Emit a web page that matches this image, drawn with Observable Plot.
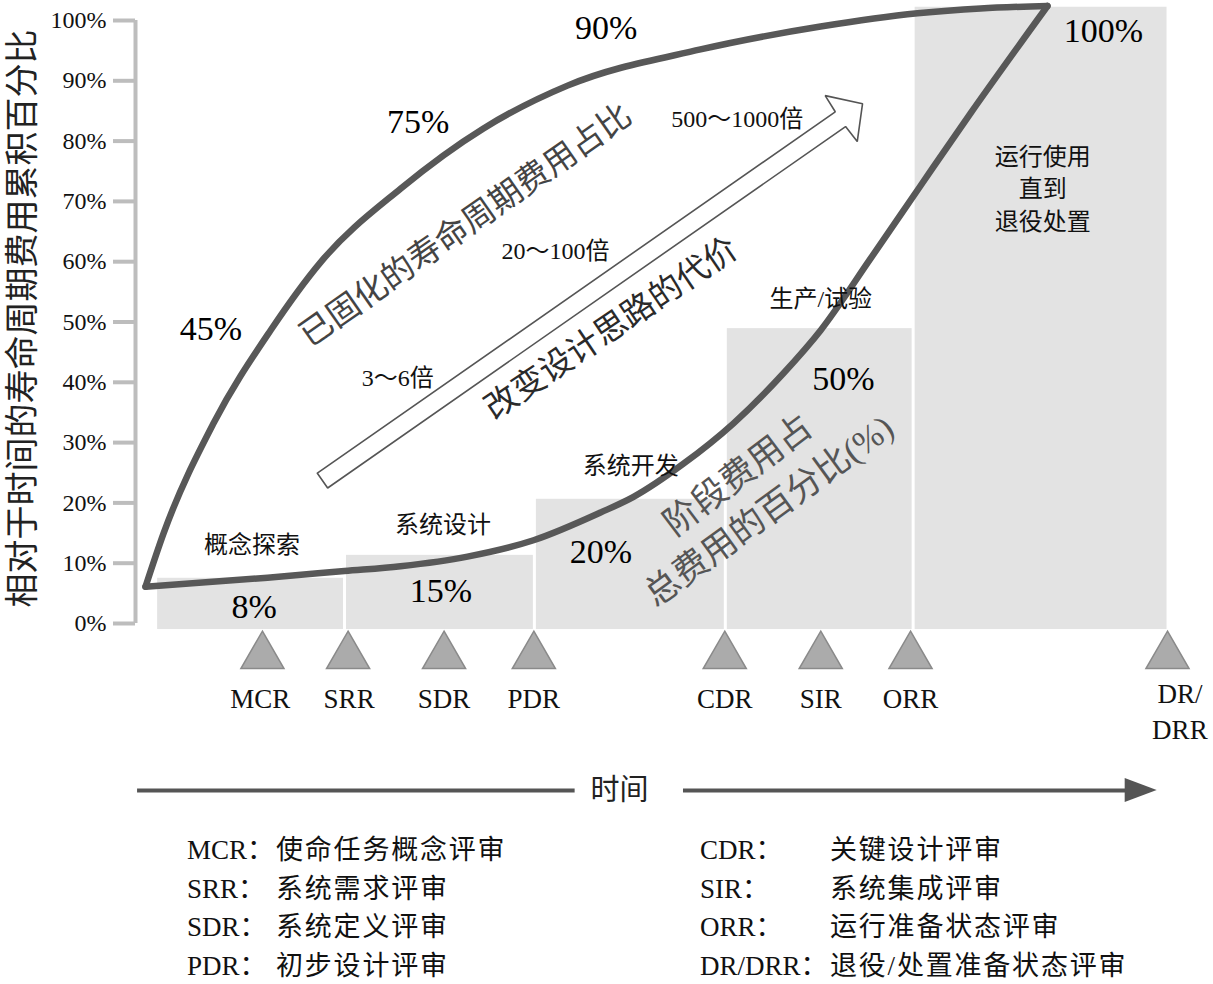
<!DOCTYPE html>
<html>
<head>
<meta charset="utf-8">
<script src="https://cdn.jsdelivr.net/npm/d3@7"></script>
<script src="https://cdn.jsdelivr.net/npm/@observablehq/plot@0.6"></script>
<style>
  body { margin: 0; background: #fff; }
  #wrap { position: relative; width: 1213px; height: 984px; overflow: hidden;
          font-family: "Liberation Serif", "Noto Sans CJK SC", serif; color: #111; }
  #chart svg { display: block; }
  .lcol { position: absolute; top: 831px; display: grid; line-height: 38.7px; font-size: 27px; }
  .lcol .d { letter-spacing: 1.8px; }
</style>
</head>
<body>
<div id="wrap">
  <div id="chart"></div>
  <div id="legend"></div>
</div>
<script>
// ---------- data ----------
const yTicks = [0, 10, 20, 30, 40, 50, 60, 70, 80, 90, 100];
const yTitle = "相对于时间的寿命周期费用累积百分比";

// life-cycle phases (time in % of life cycle, cost in %)
const phaseNames   = ["概念探索", "系统设计", "系统开发", "生产/试验", "运行使用\n直到\n退役处置"];
const phaseStart   = [2.0, 20.3, 38.7, 57.2, 75.4];
const phaseEnd     = [20.3, 38.7, 57.2, 75.4, 100.1];
const phaseBarTop  = [7.5, 11.3, 20.6, 48.9, 102.2];
const phaseNameT   = [11.3, 29.8, 48.0, 66.4, 87.9];
const phaseNamePct = [13.4, 16.7, 26.5, 54.2, 72.4];
const phaseShare    = ["8%", "15%", "20%", "50%", "100%"];
const phaseShareT   = [11.5, 29.6, 45.1, 68.6, 93.8];
const phaseSharePct = [2.7, 5.4, 11.8, 40.6, 98.3];

// committed life-cycle cost curve
const committedT   = [0.97, 2.71, 7.56, 13.08, 17.93, 25.68, 33.72, 41.86, 54.75, 66.38, 75.78, 81.88, 88.37];
const committedPct = [6.1, 14.9, 33.2, 48.6, 59.9, 72.1, 82.1, 89.2, 95.2, 99.0, 101.2, 102.0, 102.4];
const committedLabel    = ["45%", "75%", "90%"];
const committedLabelT   = [7.3, 27.4, 45.6];
const committedLabelPct = [48.9, 83.2, 98.8];

// cumulative spent cost curve
const spentT   = [0.97, 12.79, 20.25, 25.68, 32.17, 38.57, 45.06, 48.26, 53.10, 57.95, 62.79, 66.38, 71.22, 76.07, 80.91, 88.37];
const spentPct = [6.1, 7.6, 8.7, 9.5, 11.1, 13.8, 18.4, 21.0, 26.5, 33.2, 41.5, 48.6, 60.5, 72.6, 84.6, 102.4];

// milestones
const milestones       = ["MCR", "SRR", "SDR", "PDR", "CDR", "SIR", "ORR", "DR/\nDRR"];
const milestoneT       = [12.3, 20.6, 29.9, 38.6, 57.1, 66.4, 75.1, 100.0];
const milestoneLabelT  = [12.1, 20.7, 29.9, 38.6, 57.1, 66.4, 75.1, 101.2];
const milestoneLabelPct = [-12.1, -12.1, -12.1, -12.1, -12.1, -12.1, -12.1, -14.3];
const milestoneMarkPct = -5.4;

// cost of design change
const costFactor    = ["3～6倍", "20～100倍", "500～1000倍"];
const costFactorT   = [25.4, 40.7, 58.3];
const costFactorPct = [40.6, 61.8, 83.6];
const arrowFrom = [18.12, 23.7];
const arrowTo   = [70.45, 86.2];

// rotated notes
const notes     = ["已固化的寿命周期费用占比", "改变设计思路的代价", "阶段费用占", "总费用的百分比(%)"];
const noteT     = [32.0, 46.1, 58.4, 61.4];
const notePct   = [66.0, 48.9, 24.5, 18.6];
const noteAngle = [-35, -34, -37, -36];
const noteColor = ["#444", "#2a2a2a", "#555", "#555"];

// time axis
const timeLabel = "时间";
const timeLabelT = 46.9;
const timePct = -27.7;
const timeLeft  = [0.2, 42.6];
const timeRight = [53.1, 96.0];
const timeHeadT = [95.9, 99.0];
const timeHeadHalf = [2.0, 0];

// legend
const legendAbbr = ["MCR", "SRR", "SDR", "PDR", "CDR", "SIR", "ORR", "DR/DRR"];
const legendDesc = ["使命任务概念评审", "系统需求评审", "系统定义评审", "初步设计评审",
                    "关键设计评审", "系统集成评审", "运行准备状态评审", "退役/处置准备状态评审"];

// ---------- layout ----------
const W = 1213, H = 815, ML = 135, MR = 46, MT = 20, MB = 192;
const xDomain = [0, 100], yDomain = [0, 100];
const FONT = "'Liberation Serif','Noto Sans CJK SC',serif";

// hollow arrow outline, built in screen space from the data end points
const sx = Plot.scale({x: {domain: xDomain, range: [ML, W - MR]}});
const sy = Plot.scale({y: {domain: yDomain, range: [H - MB, MT]}});
const p0 = [sx.apply(arrowFrom[0]), sy.apply(arrowFrom[1])];
const p1 = [sx.apply(arrowTo[0]), sy.apply(arrowTo[1])];
const len = Math.hypot(p1[0] - p0[0], p1[1] - p0[1]);
const u = [(p1[0] - p0[0]) / len, (p1[1] - p0[1]) / len];
const n = [-u[1], u[0]];
const shaftHalf = 9, headLen = 27, headHalf = 28, barbBack = 26;
const pt = (base, a, b) => [base[0] + u[0] * a + n[0] * b, base[1] + u[1] * a + n[1] * b];
const arrowPx = [
  pt(p0, 0, -shaftHalf), pt(p1, -headLen, -shaftHalf), pt(p1, -barbBack, -headHalf),
  p1, pt(p1, -barbBack, headHalf), pt(p1, -headLen, shaftHalf), pt(p0, 0, shaftHalf), pt(p0, 0, -shaftHalf)
];
const arrowT = arrowPx.map(p => sx.invert(p[0]));
const arrowPct = arrowPx.map(p => sy.invert(p[1]));

const idx = a => d3.range(a.length);

const chart = Plot.plot({
  width: W, height: H,
  marginLeft: ML, marginRight: MR, marginTop: MT, marginBottom: MB,
  x: {domain: xDomain, axis: null},
  y: {domain: yDomain, axis: null},
  style: {fontFamily: FONT, background: "#fff"},
  marks: [
    // phase cost bars
    Plot.rectY(idx(phaseStart), {
      x1: i => phaseStart[i], x2: i => phaseEnd[i], y1: -1.0, y2: i => phaseBarTop[i],
      fill: "#e3e3e3", insetLeft: 1.5, insetRight: 1.5
    }),
    // y axis
    Plot.ruleX([0], {y1: 0, y2: 100, stroke: "#bdbdbd", strokeWidth: 4}),
    Plot.axisY(yTicks, {
      tickSize: 22, tickPadding: 7, tickFormat: d => d + "%",
      stroke: "#bdbdbd", strokeWidth: 4, fill: "#111", fontSize: 24, fontFamily: FONT, label: null
    }),
    Plot.text([yTitle], {x: -10.9, y: 50.6, rotate: -90, fontSize: 34, fontFamily: FONT, fill: "#222"}),
    // curves
    Plot.line(idx(committedT), {x: i => committedT[i], y: i => committedPct[i], curve: "monotone-x",
      stroke: "#585858", strokeWidth: 6.5, strokeLinecap: "round", strokeLinejoin: "round"}),
    Plot.line(idx(spentT), {x: i => spentT[i], y: i => spentPct[i], curve: "monotone-x",
      stroke: "#585858", strokeWidth: 6.5, strokeLinecap: "round", strokeLinejoin: "round"}),
    // hollow arrow
    Plot.line(idx(arrowT), {x: i => arrowT[i], y: i => arrowPct[i], stroke: "#555", strokeWidth: 1.6, strokeLinejoin: "miter"}),
    Plot.text(costFactor, {x: (d, i) => costFactorT[i], y: (d, i) => costFactorPct[i], text: d => d,
      fontSize: 24, fontFamily: FONT, fill: "#111"}),
    // phase labels
    Plot.text(phaseNames, {x: (d, i) => phaseNameT[i], y: (d, i) => phaseNamePct[i], text: d => d,
      fontSize: 24, lineHeight: 1.36, fontFamily: FONT, fill: "#111"}),
    Plot.text(phaseShare, {x: (d, i) => phaseShareT[i], y: (d, i) => phaseSharePct[i], text: d => d,
      fontSize: 34, fontFamily: FONT, fill: "#000"}),
    Plot.text(committedLabel, {x: (d, i) => committedLabelT[i], y: (d, i) => committedLabelPct[i], text: d => d,
      fontSize: 34, fontFamily: FONT, fill: "#000"}),
    // rotated notes
    Plot.text(notes, {x: (d, i) => noteT[i], y: (d, i) => notePct[i], text: d => d,
      rotate: (d, i) => noteAngle[i], fill: (d, i) => noteColor[i],
      fontSize: (d, i) => i < 2 ? 33 : 35, fontFamily: FONT}),
    // milestones
    Plot.dot(milestones, {x: (d, i) => milestoneT[i], y: milestoneMarkPct, symbol: "triangle", r: 16,
      fill: "#ababab", stroke: "#8a8a8a", strokeWidth: 1.5}),
    Plot.text(milestones, {x: (d, i) => milestoneLabelT[i], y: (d, i) => milestoneLabelPct[i], text: d => d,
      fontSize: 27, lineHeight: 1.3, fontFamily: FONT, fill: "#111"}),
    // time axis
    Plot.ruleY([timePct], {x1: timeLeft[0], x2: timeLeft[1], stroke: "#555", strokeWidth: 4}),
    Plot.ruleY([timePct], {x1: timeRight[0], x2: timeRight[1], stroke: "#555", strokeWidth: 4}),
    Plot.areaY(idx(timeHeadT), {x: i => timeHeadT[i], y1: i => timePct - timeHeadHalf[i],
      y2: i => timePct + timeHeadHalf[i], fill: "#555"}),
    Plot.text([timeLabel], {x: timeLabelT, y: timePct, fontSize: 29, fontFamily: FONT, fill: "#222"})
  ]
});
document.getElementById("chart").append(chart);

// legend below the chart
const legend = document.getElementById("legend");
[[0, 4, 187, 89], [4, 8, 700, 130]].forEach(([a, b, left, w]) => {
  const col = document.createElement("div");
  col.className = "lcol";
  col.style.left = left + "px";
  col.style.gridTemplateColumns = w + "px auto";
  for (let i = a; i < b; i++) {
    const ab = document.createElement("span");
    ab.textContent = legendAbbr[i] + "：";
    const de = document.createElement("span");
    de.className = "d";
    de.textContent = legendDesc[i];
    col.append(ab, de);
  }
  legend.append(col);
});
</script>
</body>
</html>
